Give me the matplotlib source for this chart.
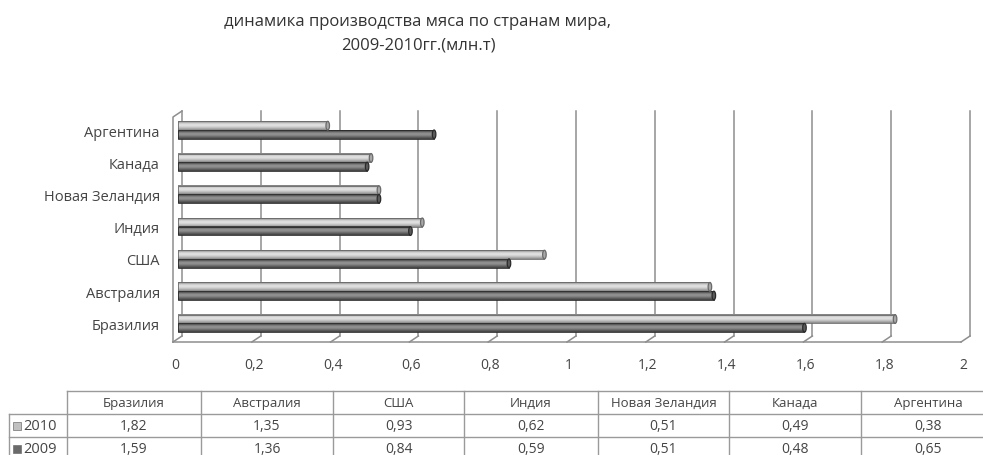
import numpy as np
import matplotlib.pyplot as plt
import matplotlib.transforms as mtransforms
from matplotlib.colors import LinearSegmentedColormap
from matplotlib.patches import Ellipse, Rectangle
from matplotlib.lines import Line2D

plt.rcParams['font.family'] = ['Open Sans', 'DejaVu Sans']

countries = ['Бразилия', 'Австралия', 'США', 'Индия', 'Новая Зеландия', 'Канада', 'Аргентина']
years = ['2010', '2009']
prod_2010 = [1.82, 1.35, 0.93, 0.62, 0.51, 0.49, 0.38]
prod_2009 = [1.59, 1.36, 0.84, 0.59, 0.51, 0.48, 0.65]
xticks = [0, 0.2, 0.4, 0.6, 0.8, 1.0, 1.2, 1.4, 1.6, 1.8, 2.0]

W, H = 983, 456
fig = plt.figure(figsize=(W / 100, H / 100), dpi=100)
fig.patch.set_facecolor('white')

def fx(px):
    return px / W

def fy(py):
    return 1 - py / H

txt = '#454545'
grid = '#8e8e8e'

ax = fig.add_axes([fx(178), fy(337), fx(966) - fx(178), fy(112) - fy(337)])
xmin, xmax = 0, 2
ymin, ymax = -0.39, 6.59
ax.set_xlim(xmin, xmax)
ax.set_ylim(ymin, ymax)
for s in ax.spines.values():
    s.set_visible(False)

# pixel -> data offsets for the fake 3D depth
dx_back = 4 / 394
dx_front = -5 / 394
dy_front = -6 / 32.25
dy_top = -6 / 32.25

# back wall gridlines with slanted feet onto the front floor edge
for v in xticks:
    xb = v + dx_back
    ax.add_line(Line2D([xb, xb], [ymin, ymax], color=grid, lw=1.1, clip_on=False))
    ax.add_line(Line2D([xb, v + dx_front], [ymin, ymin + dy_front], color=grid, lw=1.1, clip_on=False))
# front floor edge and left wall edge
ax.add_line(Line2D([dx_front, 2 + dx_front], [ymin + dy_front, ymin + dy_front],
                   color=grid, lw=1.1, clip_on=False))
ax.add_line(Line2D([dx_front, dx_front, dx_back], [ymin + dy_front, ymax + dy_top, ymax],
                   color=grid, lw=1.1, clip_on=False))

# cylinder style shading across bar height
prof = np.array([0.05, 0.45, 0.85, 1.0, 0.9, 0.65, 0.4, 0.15])[:, None]
cm_light = LinearSegmentedColormap.from_list('l', ['#808080', '#bdbdbd', '#e2e2e2'])
cm_dark = LinearSegmentedColormap.from_list('d', ['#3a3a3a', '#686868', '#939393'])

h = 0.27
y = np.arange(len(countries))
series = [
    (prod_2010, y + h / 2, cm_light, '#6a6a6a', '#a8a8a8'),
    (prod_2009, y - h / 2, cm_dark, '#2a2a2a', '#5a5a5a'),
]
for vals, ys, cmap, edge, capc in series:
    for v, yy in zip(vals, ys):
        ax.imshow(prof, cmap=cmap, extent=(0, v, yy - h / 2, yy + h / 2),
                  aspect='auto', interpolation='bilinear', zorder=3, vmin=0, vmax=1)
        ax.add_patch(Rectangle((0, yy - h / 2), v, h, fill=False, ec=edge, lw=0.6, zorder=4))
        ax.add_patch(Ellipse((v, yy), 0.009, h, fc=capc, ec=edge, lw=0.9, zorder=5))
ax.set_xlim(xmin, xmax)
ax.set_ylim(ymin, ymax)

ax.set_yticks(y)
ax.set_yticklabels(countries, fontsize=10.5, color=txt)
ax.set_xticks(xticks)
ax.set_xticklabels([('%g' % t).replace('.', ',') for t in xticks], fontsize=10, color=txt)
ax.tick_params(axis='both', length=0)
ax.tick_params(axis='y', pad=13)
ax.tick_params(axis='x', pad=15)
shift = mtransforms.ScaledTranslation(-3 / 100, 0, fig.dpi_scale_trans)
for lbl in ax.get_xticklabels():
    lbl.set_transform(lbl.get_transform() + shift)

fig.text(fx(418), fy(22), 'динамика производства мяса по странам мира,',
         ha='center', va='center', fontsize=12, color='#333333')
fig.text(fx(418), fy(45), '2009-2010гг.(млн.т)',
         ha='center', va='center', fontsize=12, color='#333333')

# data table under the chart
tcol = '#9a9a9a'
col_edges = [67, 201, 333, 464, 598, 729, 861, 995]
row_edges = [392, 415, 438, 462]

def fline(x0, x1, y0, y1):
    fig.add_artist(Line2D([fx(x0), fx(x1)], [fy(y0), fy(y1)], color=tcol, lw=1.0))

fline(col_edges[0], col_edges[-1], row_edges[0], row_edges[0])
for r in row_edges[1:3]:
    fline(9, col_edges[-1], r, r)
fline(9, 9, row_edges[1], row_edges[-1])
for c in col_edges[:-1]:
    fline(c, c, row_edges[0], row_edges[-1])

centers = [(a + b) / 2 for a, b in zip(col_edges[:-1], col_edges[1:])]
for cx, name in zip(centers, countries):
    fig.text(fx(cx), fy(403.5), name, ha='center', va='center', fontsize=9.5, color=txt)
for row, vals in enumerate([prod_2010, prod_2009]):
    cy = (row_edges[row + 1] + row_edges[row + 2]) / 2
    for cx, v in zip(centers, vals):
        fig.text(fx(cx), fy(cy), ('%.2f' % v).replace('.', ','), ha='center', va='center',
                 fontsize=10, color=txt)

key_cols = ['#c0c0c0', '#6a6a6a']
for row, (yr, kc) in enumerate(zip(years, key_cols)):
    cy = (row_edges[row + 1] + row_edges[row + 2]) / 2
    fig.add_artist(Rectangle((fx(13), fy(cy + 4)), fx(8), fy(0) - fy(8),
                             fc=kc, ec='#707070', lw=0.5))
    fig.text(fx(23), fy(cy), yr, ha='left', va='center', fontsize=10.5, color=txt)

fig.savefig('out.png', dpi=100)
